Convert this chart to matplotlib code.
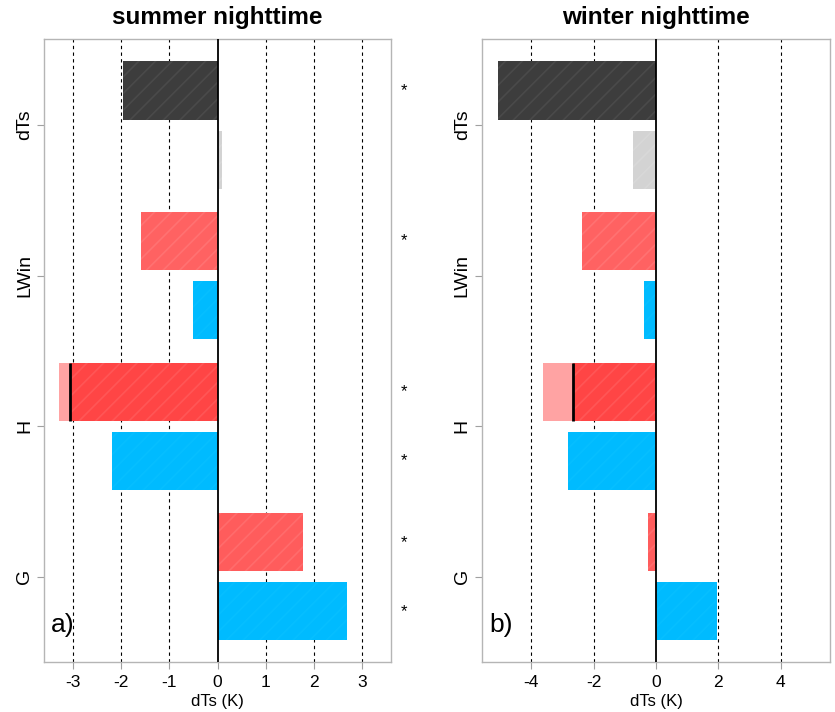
import numpy as np
import matplotlib
matplotlib.use("Agg")
import matplotlib.pyplot as plt

plt.rcParams['font.family'] = ['Liberation Sans', 'DejaVu Sans']
plt.rcParams['hatch.linewidth'] = 1.2

variables = ["G", "H", "LWin", "dTs"]

# upper bar of each pair (dark for dTs, red for the rest)
summer_upper = [1.78, -3.07, -1.58, -1.96]
summer_upper_ext = [None, -3.29, None, None]
summer_lower = [2.68, -2.19, -0.51, 0.10]
summer_stars_upper = [True, True, True, True]
summer_stars_lower = [True, True, False, False]

winter_upper = [-0.24, -2.66, -2.37, -5.06]
winter_upper_ext = [None, -3.62, None, None]
winter_lower = [1.97, -2.82, -0.38, -0.74]

upper_colors = ["#ff5c5c", "#ff4545", "#ff6262", "#3d3d3d"]
upper_hatch = ["#ff6c6c", "#ff5656", "#ff7272", "#4a4a4a"]
lower_colors = ["#00bbff", "#00bbff", "#00bbff", "#d3d3d3"]
lower_hatch = ["#06bfff", "#06bfff", "#06bfff", "#d8d8d8"]
ext_color = "#ffa3a3"

fig = plt.figure(figsize=(8.35, 7.12), dpi=100)
ax1 = fig.add_axes([0.0527, 0.0702, 0.4156, 0.875])
ax2 = fig.add_axes([0.5772, 0.0702, 0.4168, 0.875])

y = np.arange(len(variables))
off = 0.23
h = 0.386


def draw(ax, upper, ext, lower, xlim, ticks, title, tag):
    for xt in ticks:
        if xt != 0:
            ax.axvline(xt, color="black", lw=0.8, ls=(0, (3, 3)), zorder=1)
    for i in range(len(variables)):
        if ext[i] is not None:
            ax.barh(y[i] + off, ext[i], height=h, color=ext_color, lw=0, zorder=2)
        ax.barh(y[i] + off, upper[i], height=h, color=upper_colors[i],
                edgecolor=upper_hatch[i], hatch="//", lw=0, zorder=3)
        if ext[i] is not None:
            ax.vlines(upper[i], y[i] + off - h / 2, y[i] + off + h / 2,
                      color="black", lw=2, zorder=4)
        ax.barh(y[i] - off, lower[i], height=h, color=lower_colors[i],
                edgecolor=lower_hatch[i], hatch="//", lw=0, zorder=3)
    ax.axvline(0, color="black", lw=1.3, zorder=5)
    ax.set_xlim(xlim)
    ax.set_ylim(-0.566, 3.572)
    ax.set_xticks(ticks)
    ax.set_xticklabels([str(t) for t in ticks], fontsize=12.5)
    ax.set_yticks(y)
    ax.set_yticklabels(variables, rotation=90, va="center", fontsize=14)
    ax.tick_params(axis="both", colors="#a0a0a0", labelcolor="black", length=5)
    ax.tick_params(axis="x", pad=4)
    ax.tick_params(axis="y", pad=3)
    for s in ax.spines.values():
        s.set_color("#b5b5b5")
        s.set_linewidth(1)
    ax.set_xlabel("dTs (K)", fontsize=12, labelpad=3)
    ax.set_title(title, fontsize=17.5, fontweight="bold", pad=11)
    ax.text(0.02, 0.04, tag, transform=ax.transAxes, fontsize=19, ha="left", va="bottom")


draw(ax1, summer_upper, summer_upper_ext, summer_lower, (-3.6, 3.6),
     [-3, -2, -1, 0, 1, 2, 3], "summer nighttime", "a)")
draw(ax2, winter_upper, winter_upper_ext, winter_lower, (-5.58, 5.58),
     [-4, -2, 0, 2, 4], "winter nighttime", "b)")

trans = ax1.get_yaxis_transform()
for i in range(len(variables)):
    if summer_stars_upper[i]:
        ax1.text(1.037, y[i] + off, "*", transform=trans, ha="center", va="center",
                 fontsize=12, clip_on=False)
    if summer_stars_lower[i]:
        ax1.text(1.037, y[i] - off, "*", transform=trans, ha="center", va="center",
                 fontsize=12, clip_on=False)

fig.savefig("out.png", dpi=100)
